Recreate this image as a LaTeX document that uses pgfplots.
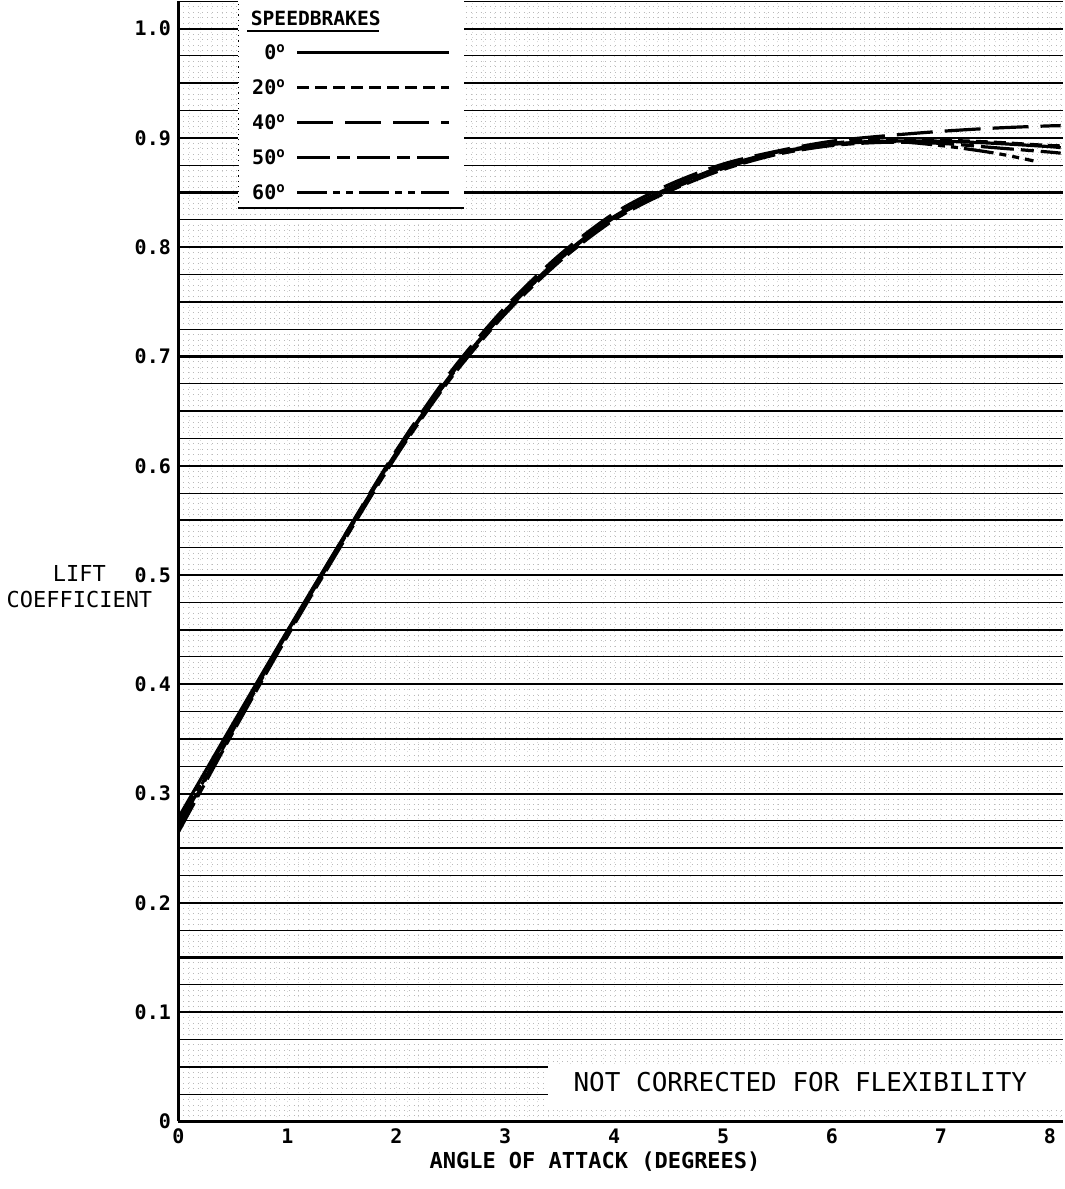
\documentclass[border=0pt]{standalone}
\usepackage{fontspec}
\setmainfont{DejaVu Sans Mono}
\usepackage{pgfplots}
\pgfplotsset{compat=1.18}

\pgfplotsset{
  frame/.style={scale only axis, width=442.5pt, height=560.5pt,
    xmin=0, xmax=8.12, ymin=0, ymax=1.025},
  cv/.style={line width=1.6pt, black, smooth, no marks},
}

\begin{document}
\begin{tikzpicture}
% fine chart-paper grid
\begin{axis}[frame,
  axis line style={draw=none}, tick style={draw=none},
  xticklabels={}, yticklabels={},
  ticklabel style={overlay, inner sep=0pt},
  xtick={0,0.1,...,8.15}, ytick={0,0.005,...,1.03},
  grid=major,
  x grid style={gray!30, dotted, line width=0.4pt},
  y grid style={gray!55, dotted, line width=0.5pt},
]
\end{axis}

\begin{axis}[frame,
  axis lines=left, axis line style={-, line width=1.3pt},
  tick style={draw=none},
  /pgf/number format/assume math mode=true,
  ticklabel style={font=\bfseries\fontsize{10}{12}\selectfont},
  xticklabel style={inner sep=1.5pt},
  yticklabel style={inner sep=1.5pt},
  xtick={0,1,2,3,4,5,6,7,8},
  ytick={0,0.1,0.2,0.3,0.4,0.5,0.6,0.7,0.8,0.9,1.0},
  yticklabels={0,0.1,0.2,0.3,0.4,0.5,0.6,0.7,0.8,0.9,1.0},
  minor ytick={0.025,0.075,...,1.0},
  ymajorgrids, yminorgrids,
  major grid style={black, line width=1.1pt},
  minor grid style={black, line width=0.5pt},
  extra y ticks={0.05,0.15,0.25,0.35,0.45,0.55,0.65,0.75,0.85,0.95},
  extra y tick labels={},
  extra y tick style={grid=major, major grid style={black, line width=1.1pt}},
  xlabel={ANGLE OF ATTACK (DEGREES)},
  xlabel style={at={(rel axis cs:0.471,-0.036)}, anchor=center, font=\bfseries\fontsize{11}{13}\selectfont},
  ylabel={LIFT\\COEFFICIENT},
  ylabel style={rotate=-90, align=center, at={(rel axis cs:-0.112,0.477)}, anchor=center, font=\fontsize{11}{13}\selectfont},
  legend plot pos=right,
  legend cell align=right,
  legend image code/.code={\draw[#1] (0pt,0pt) -- (76pt,0pt);},
  legend style={at={(axis cs:0.6,0.992)}, anchor=north west, draw=none, fill=none,
    font=\bfseries\fontsize{10}{12}\selectfont, row sep=6.5pt, column sep=4pt,
    nodes={inner sep=1pt, text height=8pt, text depth=1pt}},
]
% legend panel and note panel
\fill[white] (axis cs:0.55,0.836) rectangle (axis cs:2.62,1.03);
\draw[line width=0.9pt] (axis cs:0.55,0.836) -- (axis cs:2.62,0.836);
\draw[dotted, line width=0.6pt] (axis cs:0.55,0.836) -- (axis cs:0.55,1.03);
\node[anchor=west, font=\bfseries\fontsize{9.8}{11}\selectfont] at (axis cs:0.6,1.009) {SPEEDBRAKES};
\draw[line width=1.2pt] (axis cs:0.63,0.998) -- (axis cs:1.84,0.998);
\fill[white] (axis cs:3.39,0.012) rectangle (axis cs:8.12,0.051);
\node[font=\fontsize{13}{15}\selectfont] at (axis cs:5.71,0.036) {NOT CORRECTED FOR FLEXIBILITY};

% 0 deg
\addplot[cv] coordinates {
 (0,0.278) (0.5,0.364) (1.0,0.449) (1.5,0.532) (2.0,0.612) (2.5,0.683)
 (3.0,0.742) (3.5,0.790) (4.0,0.828) (4.5,0.854) (5.0,0.874) (5.5,0.887)
 (6.0,0.894) (6.5,0.897) (7.0,0.897) (7.5,0.895) (8.0,0.892) (8.1,0.891)};
\addlegendentry{0\textsuperscript{o}}
% 20 deg
\addplot[cv, dash pattern=on 6pt off 3pt] coordinates {
 (0,0.268) (0.5,0.358) (1.0,0.446) (1.5,0.530) (2.0,0.611) (2.5,0.682)
 (3.0,0.741) (3.5,0.789) (4.0,0.827) (4.5,0.853) (5.0,0.873) (5.5,0.887)
 (6.0,0.895) (6.5,0.899) (7.0,0.898) (7.5,0.896) (8.0,0.893) (8.1,0.893)};
\addlegendentry{20\textsuperscript{o}}
% 40 deg
\addplot[cv, dash pattern=on 18pt off 6pt] coordinates {
 (0,0.270) (0.5,0.360) (1.0,0.447) (1.5,0.532) (2.0,0.614) (2.5,0.686)
 (3.0,0.745) (3.5,0.793) (4.0,0.831) (4.5,0.857) (5.0,0.876) (5.5,0.888)
 (6.0,0.897) (6.5,0.902) (7.0,0.906) (7.5,0.909) (8.0,0.911) (8.1,0.911)};
\addlegendentry{40\textsuperscript{o}}
% 50 deg
\addplot[cv, dash pattern=on 16.5pt off 3.5pt on 6.5pt off 3.5pt] coordinates {
 (0,0.265) (0.5,0.356) (1.0,0.444) (1.5,0.528) (2.0,0.609) (2.5,0.680)
 (3.0,0.739) (3.5,0.787) (4.0,0.825) (4.5,0.851) (5.0,0.871) (5.5,0.885)
 (6.0,0.893) (6.5,0.896) (7.0,0.895) (7.5,0.891) (8.0,0.887) (8.1,0.886)};
\addlegendentry{50\textsuperscript{o}}
% 60 deg
\addplot[cv, dash pattern=on 15pt off 3pt on 3.5pt off 3pt on 3.5pt off 3pt] coordinates {
 (0,0.274) (0.5,0.362) (1.0,0.448) (1.5,0.531) (2.0,0.611) (2.5,0.682)
 (3.0,0.741) (3.5,0.789) (4.0,0.827) (4.5,0.852) (5.0,0.872) (5.5,0.886)
 (6.0,0.894) (6.5,0.897) (7.0,0.893) (7.5,0.886) (7.85,0.879)};
\addlegendentry{60\textsuperscript{o}}
\end{axis}
% keep the bottom margin of the page
\path (current axis.south west) ++(0,-33.8pt) coordinate (pad);
\end{tikzpicture}
\end{document}
